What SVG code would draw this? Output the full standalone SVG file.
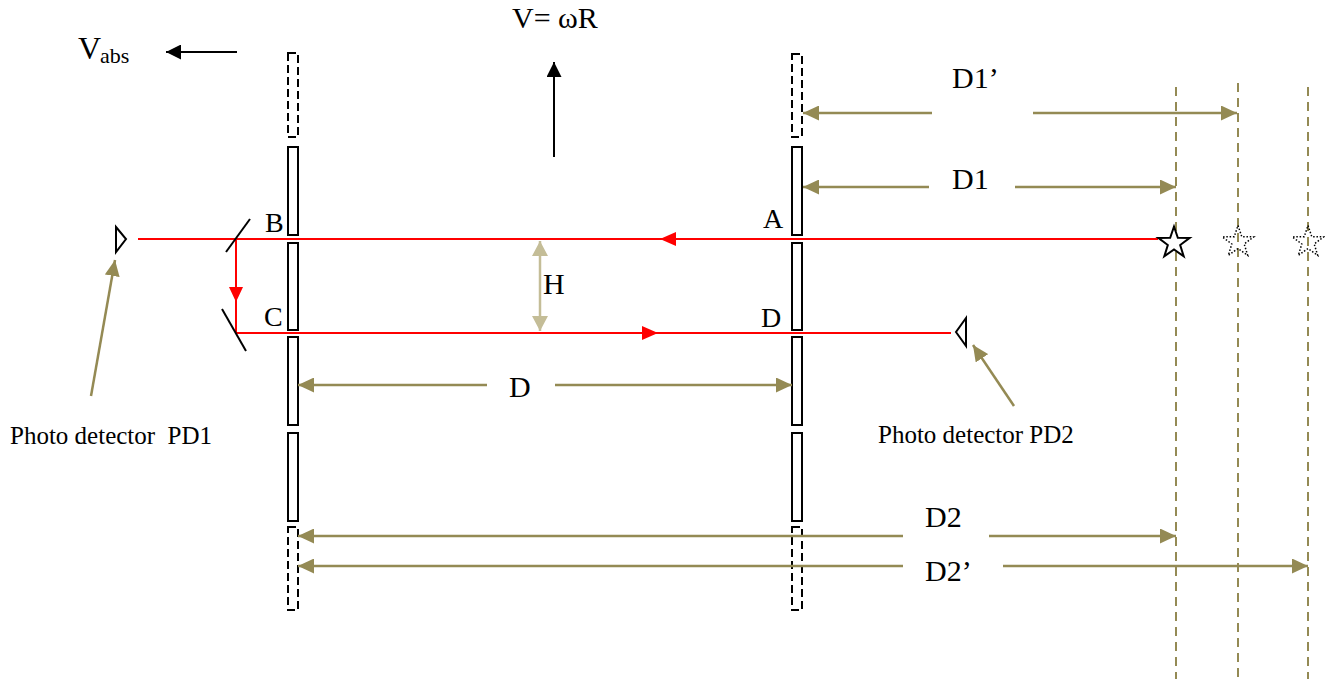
<svg xmlns="http://www.w3.org/2000/svg" width="1325" height="679" viewBox="0 0 1325 679">
<style>
text{font-family:"Liberation Serif","Times New Roman",serif;fill:#000}
.big{font-size:30px}
.lbl{font-size:28px}
.pd{font-size:25px;white-space:pre}
.plate{fill:#fff;stroke:#000;stroke-width:2}
.ghost{fill:none;stroke:#000;stroke-width:2;stroke-dasharray:8,4}
.dim{stroke:#948a54;stroke-width:2.5;fill:none}
.guide{stroke:#948a54;stroke-width:2;stroke-dasharray:9,6;fill:none}
.beam{stroke:#ff0000;stroke-width:2;fill:none}
.red{fill:#ff0000}
.blk{stroke:#000;stroke-width:2;fill:none}
</style>
<defs>
<marker id="ol" viewBox="0 0 16 15" refX="16" refY="7.5" markerWidth="16" markerHeight="15" markerUnits="userSpaceOnUse" orient="auto-start-reverse"><path d="M0,0L16,7.5L0,15z" fill="#948a54"/></marker>
<marker id="lt" viewBox="0 0 15 16" refX="15" refY="8" markerWidth="15" markerHeight="16" markerUnits="userSpaceOnUse" orient="auto-start-reverse"><path d="M0,0L15,8L0,16z" fill="#c4bd97"/></marker>
<marker id="bk" viewBox="0 0 15 15" refX="15" refY="7.5" markerWidth="15" markerHeight="15" markerUnits="userSpaceOnUse" orient="auto-start-reverse"><path d="M0,0L15,7.5L0,15z" fill="#000"/></marker>
<path id="star" d="M0,-16.5L3.82,-5.26L15.69,-5.1L6.18,2.01L9.7,13.35L0,6.5L-9.7,13.35L-6.18,2.01L-15.69,-5.1L-3.82,-5.26Z"/>
</defs>
<rect width="1325" height="679" fill="#fff"/>

<g id="guides">
<line class="guide" x1="1176" y1="87" x2="1176" y2="679"/>
<line class="guide" x1="1238" y1="83" x2="1238" y2="679"/>
<line class="guide" x1="1308" y1="87" x2="1308" y2="679"/>
</g>

<g id="left-wheel">
<rect class="ghost" x="288" y="53" width="10" height="84"/>
<rect class="plate" x="288" y="147" width="10" height="88"/>
<rect class="plate" x="288" y="243" width="10" height="87"/>
<rect class="plate" x="288" y="337" width="10" height="88"/>
<rect class="plate" x="288" y="433" width="10" height="88"/>
<rect class="ghost" x="288" y="527" width="10" height="83"/>
</g>
<g id="right-wheel">
<rect class="ghost" x="792" y="54" width="10" height="83"/>
<rect class="plate" x="792" y="147" width="10" height="88"/>
<rect class="plate" x="792" y="243" width="10" height="87"/>
<rect class="plate" x="792" y="337" width="10" height="88"/>
<rect class="plate" x="792" y="433" width="10" height="88"/>
<rect class="ghost" x="792" y="527" width="10" height="83"/>
</g>

<g id="connectors">
<line class="beam" x1="138" y1="239" x2="1158" y2="239"/>
<polygon class="red" points="660,239 676,232 676,246"/>
<line class="beam" x1="236" y1="239" x2="236" y2="333"/>
<polygon class="red" points="236,302 229,287 243,287"/>
<line class="beam" x1="236" y1="333" x2="951" y2="333"/>
<polygon class="red" points="658,333 642,326 642,340"/>

<line class="dim" x1="932" y1="113" x2="803" y2="113" marker-end="url(#ol)"/>
<line class="dim" x1="1033" y1="113" x2="1237" y2="113" marker-end="url(#ol)"/>
<line class="dim" x1="929" y1="187" x2="803" y2="187" marker-end="url(#ol)"/>
<line class="dim" x1="1015" y1="187" x2="1176" y2="187" marker-end="url(#ol)"/>
<line class="dim" x1="487" y1="385" x2="298" y2="385" marker-end="url(#ol)"/>
<line class="dim" x1="555" y1="385" x2="792" y2="385" marker-end="url(#ol)"/>
<line class="dim" x1="903" y1="536" x2="298" y2="536" marker-end="url(#ol)"/>
<line class="dim" x1="989" y1="536" x2="1176" y2="536" marker-end="url(#ol)"/>
<line class="dim" x1="903" y1="566" x2="298" y2="566" marker-end="url(#ol)"/>
<line class="dim" x1="1003" y1="566" x2="1308" y2="566" marker-end="url(#ol)"/>
<line x1="540" y1="241" x2="540" y2="331" stroke="#c4bd97" stroke-width="2.5" marker-start="url(#lt)" marker-end="url(#lt)"/>
<line class="dim" x1="91" y1="396" x2="115" y2="260" marker-end="url(#ol)"/>
<line class="dim" x1="1014" y1="406" x2="973" y2="345" marker-end="url(#ol)"/>
<line class="blk" x1="237" y1="52" x2="166" y2="52" marker-end="url(#bk)"/>
<line class="blk" x1="554" y1="157" x2="554" y2="62" marker-end="url(#bk)"/>
</g>

<g id="mirror-B"><line class="blk" x1="226" y1="252" x2="250" y2="219"/><text class="lbl" x="265" y="232">B</text></g>
<g id="mirror-C"><line class="blk" x1="222" y1="309" x2="246" y2="351"/><text class="lbl" x="264" y="326">C</text></g>
<g id="point-A"><text class="lbl" x="763" y="228">A</text></g>
<g id="point-D"><text class="lbl" x="761" y="327">D</text></g>

<g id="pd1"><polygon class="blk" points="116,227 126,239 116,252"/><text class="pd" x="10" y="444" font-size="26.5" xml:space="preserve">Photo detector  PD1</text></g>
<g id="pd2"><polygon class="blk" points="966,318 956,332 966,346"/><text class="pd" x="878" y="443">Photo detector PD2</text></g>

<g id="source-stars">
<use href="#star" x="1174" y="243" fill="#fff" stroke="#000" stroke-width="2"/>
<use href="#star" x="1238" y="242" fill="none" stroke="#000" stroke-width="1.5" stroke-dasharray="1.5,1.8"/>
<use href="#star" x="1308" y="242" fill="none" stroke="#000" stroke-width="1.5" stroke-dasharray="1.5,1.8"/>
</g>

<g id="labels">
<text x="78" y="59" font-size="32">V</text><text x="100" y="63" font-size="22">abs</text>
<text class="big" x="512" y="28">V= ωR</text>
<text class="big" x="952" y="88">D1’</text>
<text class="big" x="952" y="189">D1</text>
<text class="big" x="543" y="294">H</text>
<text class="big" x="509" y="397">D</text>
<text class="big" x="925" y="527">D2</text>
<text class="big" x="925" y="581">D2’</text>
</g>
</svg>
